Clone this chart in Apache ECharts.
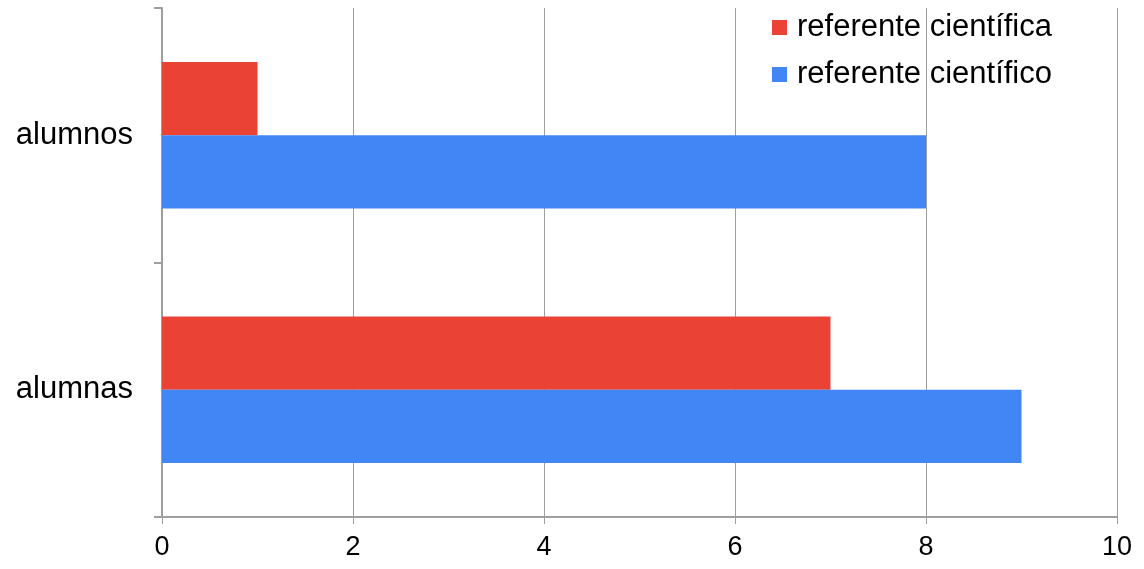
<!DOCTYPE html>
<html>
<head>
<meta charset="utf-8">
<script src="https://cdn.jsdelivr.net/npm/echarts@6/dist/echarts.min.js"></script>
<style>
  html, body { margin: 0; padding: 0; background: #fff; }
  #chart { width: 1144px; height: 569px; }
</style>
</head>
<body>
<div id="chart"></div>
<script>
const categories = ["alumnos", "alumnas"]
const seriesNames = ["referente científica", "referente científico"]
const cientifica = [1, 7]
const cientifico = [8, 9]
const xTicks = { min: 0, max: 10, interval: 2 }

const grey = "#9e9e9e"
const font = "'Liberation Sans', Arial, sans-serif"

const chart = echarts.init(document.getElementById("chart"))
chart.setOption({
  animation: false,
  textStyle: { fontFamily: font },
  grid: { left: 162, right: 27, top: 8, bottom: 52, containLabel: false },
  legend: {
    orient: "vertical", right: 87, top: 7,
    itemWidth: 15, itemHeight: 15, itemGap: 16,
    icon: "rect",
    textStyle: { fontSize: 31, color: "#000", fontFamily: font, padding: [0, 0, 0, 5] },
    data: seriesNames
  },
  xAxis: {
    type: "value", min: xTicks.min, max: xTicks.max, interval: xTicks.interval,
    axisLine: { show: true, lineStyle: { color: grey, width: 2 } },
    axisTick: { show: true, length: 7, lineStyle: { color: grey } },
    axisLabel: { fontSize: 27, color: "#000", margin: 17, fontFamily: font },
    splitLine: { show: true, lineStyle: { color: grey, width: 1 } }
  },
  yAxis: {
    type: "category", data: categories, inverse: true,
    axisLine: { show: true, lineStyle: { color: grey, width: 2 } },
    axisTick: { show: true, length: 8, lineStyle: { color: grey, width: 2 } },
    axisLabel: { fontSize: 31, color: "#000", margin: 29, fontFamily: font }
  },
  series: [
    { name: seriesNames[0], type: "bar", data: cientifica, barGap: "0%", barCategoryGap: "42.5%",
      itemStyle: { color: "#ea4335" } },
    { name: seriesNames[1], type: "bar", data: cientifico, barGap: "0%", barCategoryGap: "42.5%",
      itemStyle: { color: "#4285f4" } }
  ]
})
</script>
</body>
</html>
